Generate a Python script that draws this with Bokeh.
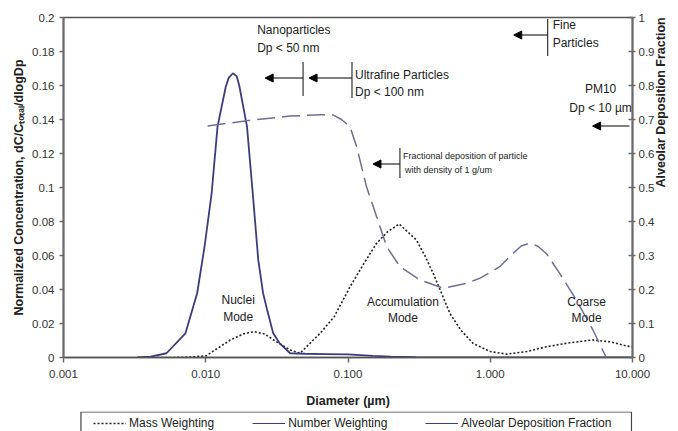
import math
from bokeh.plotting import figure
from bokeh.layouts import column
from bokeh.models import (Range1d, LinearAxis, FixedTicker, CustomJSTickFormatter,
                          Legend, LegendItem, Label, Arrow, NormalHead)
from bokeh.embed import file_html
from bokeh.resources import INLINE

# ---------------- data ----------------
number_d = [0.0033, 0.0041, 0.0053, 0.0072, 0.0087, 0.0098, 0.0110, 0.0121, 0.0138, 0.0145,
            0.0155, 0.0165, 0.0172, 0.0195, 0.0214, 0.0234, 0.0253, 0.0272, 0.0298, 0.0330,
            0.0392, 0.05, 0.07, 0.1, 0.15, 0.2, 0.3, 1.0, 10.0]
number_v = [0.0, 0.0005, 0.0025, 0.0142, 0.0378, 0.065, 0.0966, 0.1358, 0.159, 0.1645,
            0.1672, 0.1655, 0.160, 0.1358, 0.0966, 0.0574, 0.0378, 0.027, 0.0142, 0.0085,
            0.0025, 0.0022, 0.0020, 0.0018, 0.0010, 0.0005, 0.0002, 0.0, 0.0]

mass_d = [0.0033, 0.006, 0.008, 0.0101, 0.0114, 0.0149, 0.0185, 0.0219, 0.026, 0.030,
          0.0392, 0.046, 0.0636, 0.08, 0.1033, 0.13, 0.159, 0.19, 0.229, 0.303, 0.35,
          0.397, 0.45, 0.520, 0.62, 0.757, 1.0, 1.30, 1.8, 2.48, 3.5, 5.27, 7.0, 9.03, 10.0]
mass_v = [0.0, 0.0, 0.0003, 0.001, 0.004, 0.0103, 0.0140, 0.0152, 0.0138, 0.0103,
          0.0044, 0.0025, 0.0142, 0.024, 0.0416, 0.0556, 0.0672, 0.074, 0.0785, 0.0691, 0.0593,
          0.0495, 0.0387, 0.026, 0.0162, 0.0083, 0.0035, 0.002, 0.0035, 0.0063, 0.0085, 0.0103,
          0.0092, 0.0068, 0.0063]

dep_d = [0.0103, 0.02, 0.0392, 0.065, 0.0788, 0.09, 0.1033, 0.115, 0.135, 0.159, 0.187,
         0.232, 0.32, 0.467, 0.681, 0.844, 1.166, 1.445, 1.65, 1.89, 2.15, 2.48, 3.07,
         4.03, 5.27, 6.53]
dep_v = [0.681, 0.697, 0.710, 0.714, 0.713, 0.70, 0.679, 0.62, 0.502, 0.414, 0.326,
         0.267, 0.228, 0.204, 0.218, 0.233, 0.267, 0.306, 0.328, 0.336, 0.328, 0.306, 0.248,
         0.169, 0.081, 0.0]

x_ticks = [0.001, 0.01, 0.1, 1, 10]
y_ticks = [0, 0.02, 0.04, 0.06, 0.08, 0.1, 0.12, 0.14, 0.16, 0.18, 0.2]
y2_ticks = [0, 0.1, 0.2, 0.3, 0.4, 0.5, 0.6, 0.7, 0.8, 0.9, 1]

series_names = ["Mass Weighting", "Number Weighting", "Alveolar Deposition Fraction"]

FONT = "Liberation Sans"
TXT = "#222222"
NAVY = "#3c3c7c"
DASHC = "#6e6e98"

p = figure(width=678, height=411, x_axis_type="log", output_backend="svg",
           toolbar_location=None, x_range=Range1d(0.001, 10), y_range=Range1d(0, 0.2),
           min_border_left=63, min_border_right=44, min_border_top=17, min_border_bottom=54)
p.extra_y_ranges = {"right": Range1d(0, 1)}
p.xgrid.visible = False
p.ygrid.visible = False
p.outline_line_color = "#555555"
p.outline_line_width = 1.5

# axes
xa = p.xaxis[0]
xa.ticker = FixedTicker(ticks=x_ticks, minor_ticks=[])
xa.formatter = CustomJSTickFormatter(code="return tick.toFixed(3)")
xa.axis_label = "Diameter (\u00b5m)"
ya = p.yaxis[0]
ya.ticker = FixedTicker(ticks=y_ticks, minor_ticks=[])
ya.formatter = CustomJSTickFormatter(code="return String(Number(tick.toFixed(2)))")
ya.axis_label = "Normalized Concentration, dC/C\u209c\u2092\u209c\u2090\u2097/dlogDp"
ra = LinearAxis(y_range_name="right", axis_label="Alveolar Deposition Fraction")
ra.ticker = FixedTicker(ticks=y2_ticks, minor_ticks=[])
ra.formatter = CustomJSTickFormatter(code="return String(Number(tick.toFixed(1)))")
ra.axis_label_orientation = math.pi / 2
p.add_layout(ra, "right")

for ax in (xa, ya, ra):
    ax.major_label_text_font = FONT
    ax.major_label_text_font_size = "11.5px"
    ax.major_label_text_color = "#333333"
    ax.axis_label_text_font = FONT
    ax.axis_label_text_font_size = "12.5px"
    ax.axis_label_text_font_style = "bold"
    ax.axis_label_text_color = TXT
    ax.axis_line_color = "#6a6a6a"
    ax.axis_line_width = 2
    ax.major_tick_line_color = "#6a6a6a"
    ax.major_tick_line_width = 1.5
    ax.minor_tick_line_color = None
xa.major_tick_in = 0
xa.major_tick_out = 5
xa.major_label_standoff = 7
xa.axis_label_standoff = 13
xa.axis_line_color = "#555555"
xa.axis_line_width = 1.5
ya.major_tick_in = 0
ya.major_tick_out = 4
ya.major_label_standoff = 5
ya.axis_label_standoff = 3
ra.major_tick_in = 4
ra.major_tick_out = 3
ra.major_label_standoff = 3
ra.axis_label_standoff = 4

# series
p.line(mass_d, mass_v, line_color="#222222", line_width=1.6, line_dash="2 2")
p.line(number_d, number_v, line_color=NAVY, line_width=1.8)
p.line(dep_d, dep_v, y_range_name="right", line_color=DASHC, line_width=1.5,
       line_dash="18 7")

# helpers: page-pixel positions -> data coordinates (for annotations only)
def dx(px):
    return 10 ** (-3 + (px - 63) / 142.5)

def dy(py):
    return (357.5 - py) / 340 * 0.2

def label(txt, px, py, align="left", size="12px"):
    p.add_layout(Label(x=dx(px), y=dy(py), text=txt, text_align=align,
                       text_baseline="middle", text_font=FONT, text_font_size=size,
                       text_color=TXT))

def bar(px, py0, py1):
    p.segment(x0=[dx(px)], y0=[dy(py0)], x1=[dx(px)], y1=[dy(py1)],
              line_color="#444444", line_width=1.3)

def arrow(px0, px1, py):
    p.add_layout(Arrow(end=NormalHead(size=8, fill_color="black", line_color="black"),
                       x_start=dx(px0), y_start=dy(py), x_end=dx(px1), y_end=dy(py),
                       line_color="black", line_width=1.2))

label("Nanoparticles", 257, 30)
label("Dp < 50 nm", 257, 48)
bar(303, 62, 96)
arrow(303, 265, 78)

label("Ultrafine Particles", 355, 75)
label("Dp < 100 nm", 355, 92)
bar(352, 62, 98)
arrow(352, 309, 78)

label("Fine", 553, 25)
label("Particles", 553, 43)
bar(548, 19, 56)
arrow(548, 514, 35)

label("PM10", 601, 89, align="center")
label("Dp < 10 \u00b5m", 601, 108, align="center")
arrow(630, 593, 126)

label("Fractional deposition of particle", 403, 156, size="9px")
label("with density of 1 g/um", 405, 170, size="9px")
bar(400, 148, 178)
arrow(400, 373, 164)

label("Nuclei", 238, 300, align="center")
label("Mode", 238, 317, align="center")
label("Accumulation", 403, 302, align="center")
label("Mode", 403, 318, align="center")
label("Coarse", 587, 302, align="center")
label("Mode", 587, 318, align="center")

# ---- legend strip (a second, axis-less figure under the chart) ----
# its frame lines up with the chart frame; ranges are page pixels
lg = figure(width=678, height=20, output_backend="svg", toolbar_location=None,
            x_range=Range1d(63, 634), y_range=Range1d(431, 411),
            x_axis_location=None, y_axis_location=None, min_border=0)
lg.xgrid.visible = False
lg.ygrid.visible = False
lg.outline_line_color = None
lg.quad(left=[80.5], right=[633], top=[411.5], bottom=[450], fill_color=None,
        line_color="#444444", line_width=1.2)
k_mass = lg.line([63, 64], [500, 500], line_color="#222222", line_width=1.6, line_dash="2 2")
k_num = lg.line([63, 64], [500, 500], line_color=NAVY, line_width=1.2)
k_dep = lg.line([63, 64], [500, 500], line_color=NAVY, line_width=1.2)
legend = Legend(items=[LegendItem(label=series_names[0], renderers=[k_mass]),
                       LegendItem(label=series_names[1], renderers=[k_num]),
                       LegendItem(label=series_names[2], renderers=[k_dep])],
                orientation="horizontal", location=(30, 1),
                glyph_width=33, glyph_height=12, label_height=12, label_standoff=3,
                spacing=38, padding=6, margin=0,
                label_text_font=FONT, label_text_font_size="12px", label_text_color=TXT,
                border_line_color=None, background_fill_alpha=0.0)
lg.add_layout(legend, "center")

open("out.html", "w").write(file_html(column(p, lg, spacing=0), INLINE))
